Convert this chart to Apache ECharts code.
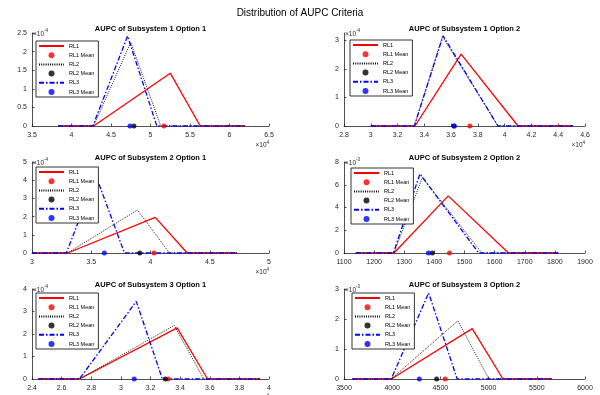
<!DOCTYPE html>
<html>
<head>
<meta charset="utf-8">
<script src="https://cdn.jsdelivr.net/npm/echarts@6/dist/echarts.min.js"></script>
<style>
  html, body { margin: 0; padding: 0; background: #fff; }
  #chart { width: 600px; height: 395px; }
</style>
</head>
<body>
<div id="chart"></div>
<script>
// values in the plotted (scaled) units
const s1RL1 = [[3.83, 0], [4.28, 0], [5.25, 1.42], [5.63, 0], [6.2, 0]];
const s1RL2 = [[3.83, 0], [4.28, 0], [4.75, 2.25], [5.13, 0], [6.2, 0]];
const s1RL3 = [[3.83, 0], [4.27, 0], [4.71, 2.42], [5.08, 0], [6.2, 0]];
const s1Mean = [5.17, 4.79, 4.74];

const s2RL1 = [[3.0, 0], [3.33, 0], [3.675, 2.51], [4.1, 0], [4.51, 0]];
const s2RL2 = [[3.0, 0], [3.325, 0], [3.535, 3.13], [3.95, 0], [4.51, 0]];
const s2RL3 = [[3.0, 0], [3.325, 0], [3.54, 3.15], [3.95, 0], [4.51, 0]];
const s2Mean = [3.74, 3.62, 3.625];

const s3RL1 = [[3.0, 0], [3.3, 0], [4.04, 1.96], [4.31, 0], [4.73, 0]];
const s3RL2 = [[3.0, 0], [3.3, 0], [3.89, 2.36], [4.16, 0], [4.73, 0]];
const s3RL3 = [[3.0, 0], [3.29, 0], [3.54, 4.24], [3.78, 0], [4.73, 0]];
const s3Mean = [4.03, 3.91, 3.61];

const s4RL1 = [[1139, 0], [1266, 0], [1446, 5.02], [1646, 0], [1812, 0]];
const s4RL2 = [[1139, 0], [1266, 0], [1360, 6.64], [1558, 0], [1812, 0]];
const s4RL3 = [[1139, 0], [1264, 0], [1352, 6.96], [1547, 0], [1812, 0]];
const s4Mean = [1450, 1393, 1380];

const s5RL1 = [[2.443, 0], [2.72, 0], [3.38, 2.27], [3.585, 0], [3.94, 0]];
const s5RL2 = [[2.443, 0], [2.72, 0], [3.36, 2.38], [3.56, 0], [3.94, 0]];
const s5RL3 = [[2.443, 0], [2.72, 0], [3.104, 3.45], [3.28, 0], [3.94, 0]];
const s5Mean = [3.32, 3.30, 3.09];

const s6RL1 = [[3587, 0], [3990, 0], [4830, 1.68], [5149, 0], [5653, 0]];
const s6RL2 = [[3587, 0], [3990, 0], [4681, 1.94], [5003, 0], [5653, 0]];
const s6RL3 = [[3587, 0], [3990, 0], [4378, 2.87], [4674, 0], [5653, 0]];
const s6Mean = [4549, 4461, 4281];

const titles = [
  'AUPC of Subsystem 1 Option 1', 'AUPC of Subsystem 1 Option 2',
  'AUPC of Subsystem 2 Option 1', 'AUPC of Subsystem 2 Option 2',
  'AUPC of Subsystem 3 Option 1', 'AUPC of Subsystem 3 Option 2'
];
const legendNames = ['RL1', 'RL1 Mean', 'RL2', 'RL2 Mean', 'RL3', 'RL3 Mean'];
const xMin = [3.5, 2.8, 3, 1100, 2.4, 3500];
const xMax = [6.5, 4.6, 5, 1900, 4, 6000];
const xStep = [0.5, 0.2, 0.5, 100, 0.2, 500];
const yMax = [2.5, 3.25, 5, 8, 4, 3];
const yStep = [0.5, 1, 1, 2, 1, 1];
const xExp = ['4', '4', '4', '', '4', ''];
const yExp = ['-4', '-4', '-4', '-3', '-4', '-3'];

const lines = [
  [s1RL1, s1RL2, s1RL3], [s2RL1, s2RL2, s2RL3], [s3RL1, s3RL2, s3RL3],
  [s4RL1, s4RL2, s4RL3], [s5RL1, s5RL2, s5RL3], [s6RL1, s6RL2, s6RL3]
];
const means = [s1Mean, s2Mean, s3Mean, s4Mean, s5Mean, s6Mean];

// layout of the 3x2 panels (px)
const boxes = [
  {left: 32, top: 33, width: 237, height: 93},
  {left: 344, top: 33, width: 241, height: 93},
  {left: 32, top: 162, width: 237, height: 91},
  {left: 344, top: 162, width: 241, height: 91},
  {left: 32, top: 289, width: 237, height: 90},
  {left: 344, top: 289, width: 241, height: 90}
];
const legendPos = [[36, 41], [350, 40], [36, 167], [351, 168], [36, 293], [352, 293]];

const font = 'Liberation Sans, Arial, sans-serif';
const axisColor = '#262626';
const colors = ['#ff0000', '#000000', '#0000ff'];
const lineStyles = [
  {width: 1.3, type: 'solid'},
  {width: 0.9, type: [1, 1.2]},
  {width: 1.3, type: [5, 2, 1.5, 2]}
];

const expRich = {
  a: {fontSize: 6.5, color: axisColor, fontFamily: font, lineHeight: 9, verticalAlign: 'bottom'},
  b: {fontSize: 4.5, color: axisColor, fontFamily: font, lineHeight: 9, verticalAlign: 'top'}
};
const tickFmt = v => String(+(+v).toFixed(4));

// legend: line entries without the marker ECharts adds by default
const legendData = legendNames.map(n =>
  n.indexOf('Mean') < 0 ? {name: n, itemStyle: {opacity: 0}} : {name: n});

const option = {
  animation: false,
  backgroundColor: '#fff',
  title: [{
    text: 'Distribution of AUPC Criteria',
    left: 300, top: 8, textAlign: 'center', padding: 0,
    textStyle: {fontSize: 10, fontWeight: 'normal', color: '#000', fontFamily: font}
  }],
  grid: [],
  xAxis: [],
  yAxis: [],
  legend: [],
  series: []
};

boxes.forEach((b, i) => {
  option.grid.push(Object.assign({outerBoundsMode: 'none', containLabel: false}, b));
  option.title.push({
    text: titles[i],
    left: b.left + b.width / 2, top: b.top - 8, textAlign: 'center', padding: 0,
    textStyle: {fontSize: 7.5, fontWeight: 'bold', color: '#000', fontFamily: font}
  });
  option.xAxis.push({
    type: 'value', gridIndex: i,
    min: xMin[i], max: xMax[i], interval: xStep[i],
    axisLine: {show: true, onZero: false, lineStyle: {color: axisColor, width: 0.8}},
    axisTick: {show: true, inside: true, length: 2.5, lineStyle: {color: axisColor, width: 0.8}},
    axisLabel: {fontSize: 7, color: axisColor, margin: 6, fontFamily: font, formatter: tickFmt},
    splitLine: {show: false},
    name: xExp[i] ? '{a|×10}{b|' + xExp[i] + '}' : '',
    nameLocation: 'end', nameGap: 0, nameMoveOverlap: false,
    nameTextStyle: {align: 'right', verticalAlign: 'top', padding: [14, 0, 0, 0], rich: expRich}
  });
  option.yAxis.push({
    type: 'value', gridIndex: i,
    min: 0, max: yMax[i], interval: yStep[i],
    axisLine: {show: true, onZero: false, lineStyle: {color: axisColor, width: 0.8}},
    axisTick: {show: true, inside: true, length: 2.5, lineStyle: {color: axisColor, width: 0.8}},
    axisLabel: {fontSize: 7, color: axisColor, margin: 5, fontFamily: font, formatter: tickFmt,
      showMaxLabel: yMax[i] % yStep[i] === 0},
    splitLine: {show: false},
    name: '{a|×10}{b|' + yExp[i] + '}',
    nameLocation: 'end', nameGap: 0, nameMoveOverlap: false,
    nameTextStyle: {align: 'left', verticalAlign: 'middle', padding: [0, 0, 0, 1], rich: expRich}
  });
  option.legend.push({
    data: legendData,
    orient: 'vertical',
    left: legendPos[i][0], top: legendPos[i][1],
    itemWidth: 25, itemHeight: 6, itemGap: 3.2,
    padding: [2, 4, 2, 2],
    backgroundColor: '#fff', borderColor: '#000', borderWidth: 0.8,
    textStyle: {fontSize: 5.5, color: '#000', fontFamily: font}
  });
  for (let k = 0; k < 3; k++) {
    option.series.push({
      name: 'RL' + (k + 1), type: 'line',
      xAxisIndex: i, yAxisIndex: i,
      data: lines[i][k],
      symbol: 'none',
      lineStyle: Object.assign({color: colors[k]}, lineStyles[k]),
      itemStyle: {color: colors[k]}
    });
    option.series.push({
      name: 'RL' + (k + 1) + ' Mean', type: 'scatter',
      xAxisIndex: i, yAxisIndex: i, z: 3,
      data: [[means[i][k], 0]],
      symbol: 'circle', symbolSize: 5,
      itemStyle: {color: colors[k]}
    });
  }
});

const myChart = echarts.init(document.getElementById('chart'));
myChart.setOption(option);
</script>
</body>
</html>
